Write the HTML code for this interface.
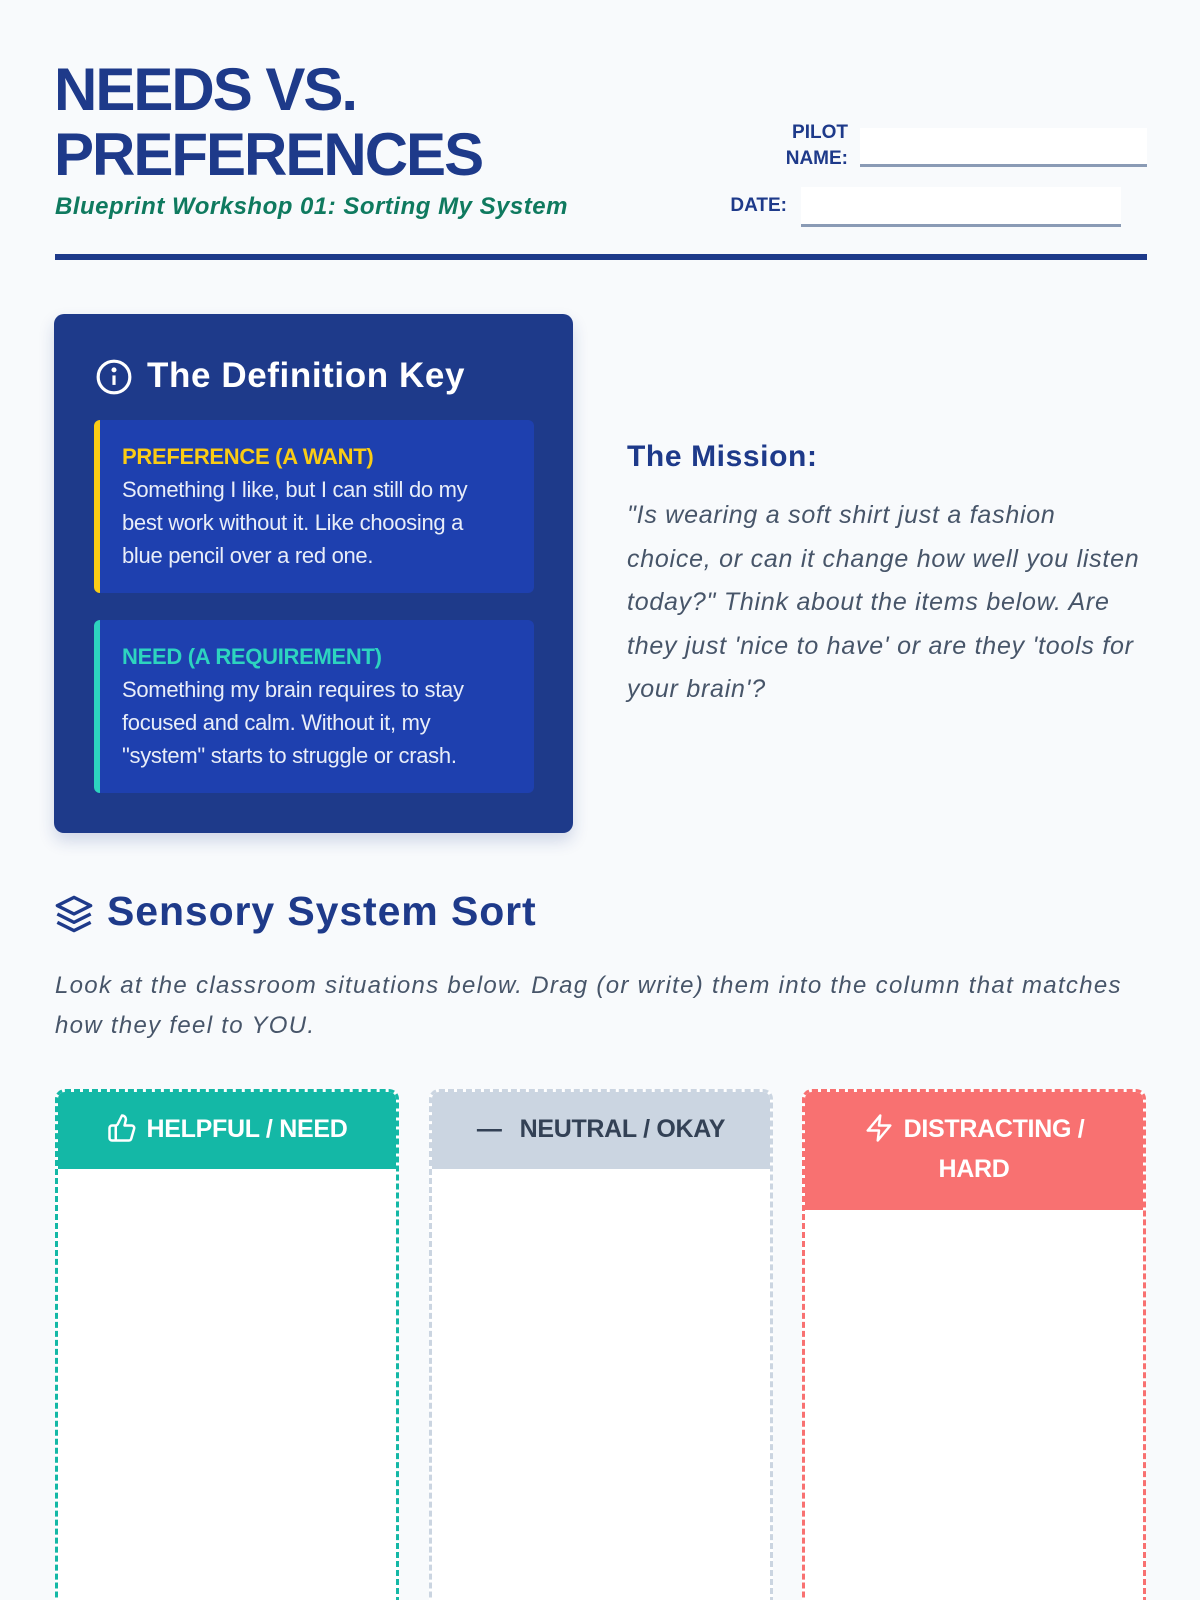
<!DOCTYPE html>
<html><head><meta charset="utf-8"><style>
*{margin:0;padding:0;box-sizing:border-box}
html,body{width:1200px;height:1600px;overflow:hidden}
body{background:#f8fafc;font-family:"Liberation Sans",sans-serif;position:relative}
#w{position:absolute;left:0;top:0;width:1200px;height:1600px;overflow:hidden}
.a{position:absolute}
.h{font-family:"Liberation Sans",sans-serif;font-weight:bold;color:#1e3a8a}
.lbl{font-weight:bold;color:#1e3a8a;font-size:19px;text-align:right;line-height:26px}
.inp{background:#fff;border-bottom:3px solid #8a9bb5}
.card{position:absolute;left:94px;width:440px;background:#1e40af;border-radius:6px;padding:20px 20px 0 22px;font-size:22px;line-height:33px;color:#e8edf8;letter-spacing:-0.3px}
.card b{display:block;font-size:22px}
.col{position:absolute;top:1089px;width:344px;height:540px;border:3px dashed;border-radius:10px;background:#fff;overflow:hidden}
.colh{font-weight:bold;font-size:25px;line-height:40px;text-align:center;padding:20px 10px;letter-spacing:-0.3px}
</style></head><body><div id="w">
<div class="a h" style="left:54px;top:57px;font-size:60px;line-height:65px;letter-spacing:-2px">NEEDS VS.<br>PREFERENCES</div>
<div class="a" style="left:55px;top:193px;font-size:24px;font-weight:bold;font-style:italic;color:#0f7a5f;letter-spacing:0.5px">Blueprint Workshop 01: Sorting My System</div>
<div class="a lbl" style="left:760px;top:120px;width:88px">PILOT<br>NAME:</div>
<div class="a inp" style="left:860px;top:128px;width:287px;height:39px"></div>
<div class="a lbl" style="left:700px;top:193px;width:87px">DATE:</div>
<div class="a inp" style="left:801px;top:187px;width:320px;height:40px"></div>
<div class="a" style="left:55px;top:254px;width:1092px;height:6px;background:#1e3a8a"></div>

<div class="a" style="left:54px;top:314px;width:519px;height:519px;background:#1e3a8a;border-radius:10px;box-shadow:0 8px 16px rgba(30,58,138,.18)"></div>
<svg class="a" style="left:95px;top:358px" width="38" height="38" viewBox="0 0 24 24" fill="none" stroke="#fff" stroke-width="2"><circle cx="12" cy="12" r="10"/><line x1="12" y1="11" x2="12" y2="17"/><circle cx="12" cy="7.5" r="0.6" fill="#fff"/></svg>
<div class="a" style="left:147px;top:356px;font-size:35px;font-weight:bold;color:#fff;letter-spacing:0.6px">The Definition Key</div>
<div class="card" style="top:420px;height:173px;border-left:6px solid #facc15"><b style="color:#facc15">PREFERENCE (A WANT)</b>Something I like, but I can still do my<br>best work without it. Like choosing a<br>blue pencil over a red one.</div>
<div class="card" style="top:620px;height:173px;border-left:6px solid #2dd4bf"><b style="color:#2dd4bf">NEED (A REQUIREMENT)</b>Something my brain requires to stay<br>focused and calm. Without it, my<br>"system" starts to struggle or crash.</div>

<div class="a h" style="left:627px;top:440px;font-size:30px;letter-spacing:0.6px">The Mission:</div>
<div class="a" style="left:627px;top:494px;width:560px;font-size:25px;line-height:43.6px;font-style:italic;color:#475569;letter-spacing:0.75px">"Is wearing a soft shirt just a fashion<br>choice, or can it change how well you listen<br>today?" Think about the items below. Are<br>they just 'nice to have' or are they 'tools for<br>your brain'?</div>

<svg class="a" style="left:54px;top:894px" width="40" height="40" viewBox="0 0 24 24" fill="none" stroke="#1e3a8a" stroke-width="2" stroke-linejoin="round"><path d="M12 2 2 7l10 5 10-5-10-5z"/><path d="m2 12 10 5 10-5"/><path d="m2 17 10 5 10-5"/></svg>
<div class="a h" style="left:107px;top:888px;font-size:41px;letter-spacing:0.9px">Sensory System Sort</div>
<div class="a" style="left:55px;top:966px;width:1140px;font-size:24px;line-height:40px;font-style:italic;color:#475569;letter-spacing:1.3px">Look at the classroom situations below. Drag (or write) them into the column that matches<br>how they feel to YOU.</div>

<div class="col" style="left:55px;border-color:#14b8a6"><div class="colh" style="background:#14b8a6;color:#fff;height:80px;margin:-3px -3px 0"><svg width="30" height="30" viewBox="0 0 24 24" fill="none" stroke="#fff" stroke-width="2" stroke-linejoin="round" style="vertical-align:-6px;margin-right:10px"><path d="M7 10v12"/><path d="M15 5.9 14 10h5.8a2 2 0 0 1 1.9 2.5l-2.3 8A2 2 0 0 1 17.5 22H4a2 2 0 0 1-2-2v-8a2 2 0 0 1 2-2h2.8a2 2 0 0 0 1.8-1.1L12 2a3.1 3.1 0 0 1 3 3.9z"/></svg>HELPFUL / NEED</div></div>
<div class="col" style="left:429px;border-color:#cbd5e1"><div class="colh" style="background:#cbd5e1;color:#334155;height:80px;margin:-3px -3px 0"><span style="margin-right:18px">—</span>NEUTRAL / OKAY</div></div>
<div class="col" style="left:802px;border-color:#f87171"><div class="colh" style="background:#f87171;color:#fff;height:121px;margin:-3px -3px 0"><svg width="30" height="30" viewBox="0 0 24 24" fill="none" stroke="#fff" stroke-width="2" stroke-linejoin="round" style="vertical-align:-6px;margin-right:10px"><path d="M13 2 3 14h9l-1 8 10-12h-9l1-8z"/></svg>DISTRACTING /<br>HARD</div></div>
</div></body></html>
